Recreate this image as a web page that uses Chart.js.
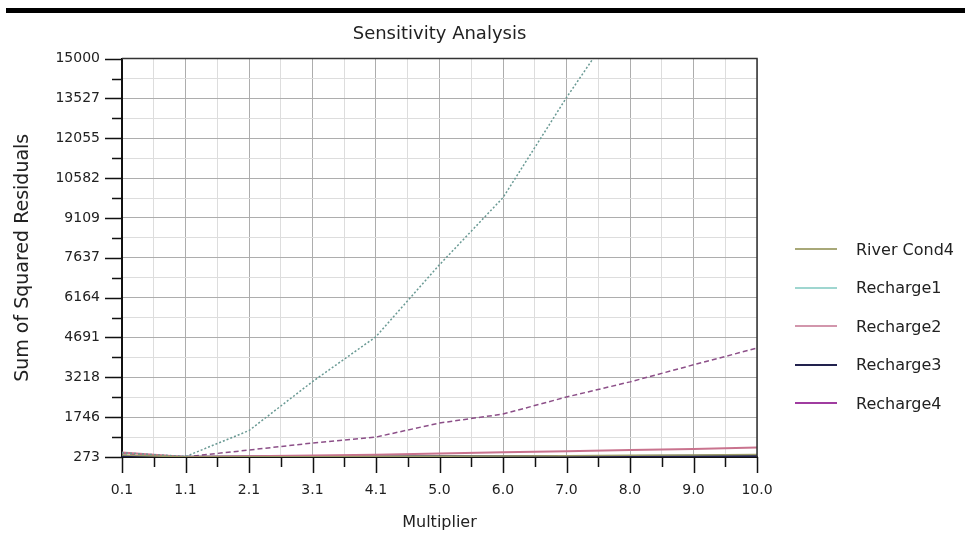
<!DOCTYPE html>
<html>
<head>
<meta charset="utf-8">
<title>Sensitivity Analysis</title>
<script src="https://cdn.jsdelivr.net/npm/chart.js@4.4.1/dist/chart.umd.min.js"></script>
<style>
    html, body { margin: 0; padding: 0; background: #fff; }
    body { width: 965px; height: 544px; position: relative; overflow: hidden; font-family: 'DejaVu Sans', sans-serif; }
    .top-rule { position: absolute; left: 6px; top: 8px; width: 959px; height: 5px; background: #000; }
    #chartWrap { position: absolute; left: 0; top: 0; width: 880px; height: 544px; }
    #legend { position: absolute; left: 795px; top: 230px; }
    .legend-item { display: flex; align-items: center; height: 38.5px; font-size: 16px; color: #222; white-space: nowrap; }
    .legend-line { display: block; width: 42px; height: 2px; margin-right: 19px; }
</style>
</head>
<body>
<div class="top-rule"></div>
<div id="chartWrap"><canvas id="sensitivityChart" width="880" height="544"></canvas></div>
<div id="legend"></div>

<script>
// multipliers used in the runs, and the labels printed under them
const xMultipliers = [0.1, 1.09, 2.08, 3.07, 4.06, 5.05, 6.04, 7.03, 8.02, 9.01, 10.0];
const xTickLabels = ['0.1', '1.1', '2.1', '3.1', '4.1', '5.0', '6.0', '7.0', '8.0', '9.0', '10.0'];
const yTickLabels = ['273', '1746', '3218', '4691', '6164', '7637', '9109', '10582', '12055', '13527', '15000'];

// sum of squared residuals for each parameter
const riverCond4 = [350, 274, 280, 285, 290, 300, 310, 320, 335, 350, 370];
const recharge1 = [430, 290, 1250, 3060, 4720, 7380, 9860, 13560, 17000, 21000, 25500];
const recharge2 = [440, 275, 300, 325, 355, 400, 445, 490, 530, 570, 620];
const recharge3 = [300, 273, 285, 280, 285, 290, 295, 300, 305, 310, 320];
const recharge4 = [400, 280, 530, 790, 1010, 1530, 1860, 2490, 3050, 3680, 4300];

const yTickValues = yTickLabels.map(Number);

// major ticks plus a minor tick half way between each pair
function withMinor(values) {
    const out = [];
    values.forEach((v, i) => {
        out.push(v);
        if (i < values.length - 1) out.push((v + values[i + 1]) / 2);
    });
    return out;
}
const xGridValues = withMinor(xMultipliers);
const yGridValues = withMinor(yTickValues);

const series = [
    { label: 'River Cond4', data: riverCond4, color: '#9c9c6a', legendColor: '#a8a878', dash: [], width: 1.5 },
    { label: 'Recharge1', data: recharge1, color: '#6a9a94', legendColor: '#9fd6d0', dash: [2, 2], width: 1.5 },
    { label: 'Recharge2', data: recharge2, color: '#c9738e', legendColor: '#d296ac', dash: [], width: 2 },
    { label: 'Recharge3', data: recharge3, color: '#23234f', legendColor: '#22224e', dash: [], width: 2.5 },
    { label: 'Recharge4', data: recharge4, color: '#8c4f88', legendColor: '#a03ca0', dash: [5, 3], width: 1.5 },
];

const axisMarks = {
    id: 'axisMarks',
    afterDraw(chart) {
        const { ctx, chartArea: area, scales: { x, y } } = chart;
        ctx.save();
        ctx.strokeStyle = '#111';
        ctx.lineWidth = 1.5;
        ctx.beginPath();
        x.ticks.forEach((t, i) => {
            const px = Math.round(x.getPixelForValue(t.value)) + 0.5;
            ctx.moveTo(px, area.bottom);
            ctx.lineTo(px, area.bottom + (i % 2 ? 10 : 16));
        });
        y.ticks.forEach((t, i) => {
            const py = Math.round(y.getPixelForValue(t.value)) + 0.5;
            ctx.moveTo(area.left, py);
            ctx.lineTo(area.left - (i % 2 ? 10 : 17), py);
        });
        ctx.stroke();

        // top and right edges of the frame
        ctx.strokeStyle = '#333';
        ctx.beginPath();
        ctx.moveTo(area.left, area.top);
        ctx.lineTo(area.right, area.top);
        ctx.lineTo(area.right, area.bottom);
        ctx.stroke();
        ctx.restore();
    },
};

const chartCanvas = document.getElementById('sensitivityChart').getContext('2d');

const sensitivityChart = new Chart(chartCanvas, {
    type: 'line',
    data: {
        datasets: series.map((s) => ({
            label: s.label,
            data: s.data.map((v, i) => ({ x: xMultipliers[i], y: v })),
            borderColor: s.color,
            backgroundColor: s.color,
            borderDash: s.dash,
            borderWidth: s.width,
            pointRadius: 0,
            tension: 0,
            fill: false,
        })),
    },
    options: {
        responsive: false,
        animation: false,
        layout: {
            padding: { left: 0, right: 123, top: 0, bottom: 0 },
        },
        scales: {
            x: {
                type: 'linear',
                min: 0.1,
                max: 10,
                afterBuildTicks: (scale) => {
                    scale.ticks = xGridValues.map((v) => ({ value: v }));
                },
                afterFit: (scale) => {
                    scale.height = 87;
                },
                grid: {
                    color: (ctx) => (ctx.index % 2 ? '#dddddd' : '#adadad'),
                    lineWidth: 1,
                    drawTicks: false,
                },
                border: { display: true, color: '#111', width: 2 },
                ticks: {
                    autoSkip: false,
                    maxRotation: 0,
                    padding: 25,
                    color: '#222',
                    font: { family: 'DejaVu Sans', size: 14 },
                    callback: (value, index) => (index % 2 ? '' : xTickLabels[index / 2]),
                },
                title: {
                    display: true,
                    text: 'Multiplier',
                    color: '#222',
                    font: { family: 'DejaVu Sans', size: 16 },
                    padding: { top: 0, bottom: 12 },
                },
            },
            y: {
                type: 'linear',
                min: 273,
                max: 15000,
                afterBuildTicks: (scale) => {
                    scale.ticks = yGridValues.map((v) => ({ value: v }));
                },
                afterFit: (scale) => {
                    scale.width = 122;
                },
                grid: {
                    color: (ctx) => (ctx.index % 2 ? '#dddddd' : '#adadad'),
                    lineWidth: 1,
                    drawTicks: false,
                },
                border: { display: true, color: '#111', width: 2 },
                ticks: {
                    autoSkip: false,
                    padding: 22,
                    color: '#222',
                    font: { family: 'DejaVu Sans', size: 14 },
                    callback: (value, index) => (index % 2 ? '' : yTickLabels[index / 2]),
                },
                title: {
                    display: true,
                    text: 'Sum of Squared Residuals',
                    color: '#222',
                    font: { family: 'DejaVu Sans', size: 19 },
                    padding: { top: 12, bottom: 0 },
                },
            },
        },
        plugins: {
            legend: { display: false },
            tooltip: { enabled: false },
            title: {
                display: true,
                fullSize: false,
                text: 'Sensitivity Analysis',
                color: '#222',
                font: { family: 'DejaVu Sans', size: 18, weight: 'normal' },
                padding: { top: 24, bottom: 13 },
            },
        },
    },
    plugins: [axisMarks],
});

// legend built from the same series list
const legendBox = document.getElementById('legend');
series.forEach((s) => {
    const item = document.createElement('div');
    item.className = 'legend-item';
    const line = document.createElement('span');
    line.className = 'legend-line';
    line.style.background = s.legendColor;
    item.appendChild(line);
    item.appendChild(document.createTextNode(s.label));
    legendBox.appendChild(item);
});
</script>
</body>
</html>
